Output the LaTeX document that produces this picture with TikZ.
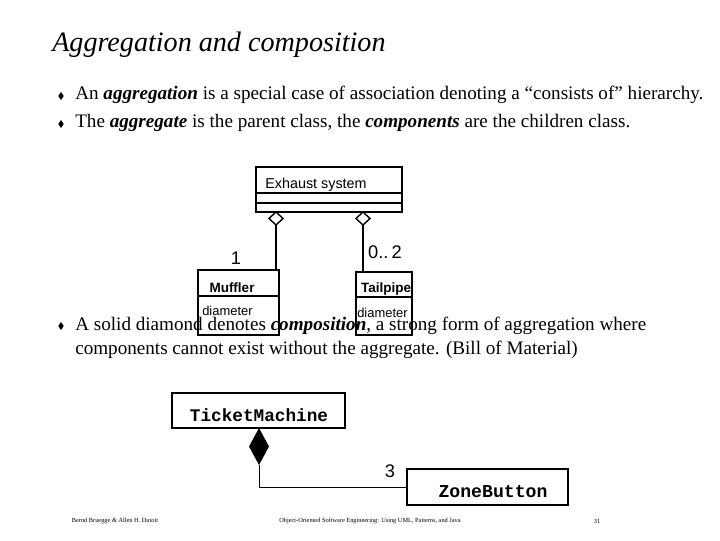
\documentclass[tikz,border=0pt]{standalone}
\usepackage{fontspec}
\setmainfont{Liberation Serif}
\newfontfamily\umlfont{Liberation Sans}
\newfontfamily\codefont{Liberation Mono}
\usetikzlibrary{calc,shapes.geometric}
\tikzset{
  bodytext/.style={anchor=west,inner sep=0pt,font=\fontsize{13.6}{15}\selectfont},
  bulletmark/.style={diamond,fill=black,inner sep=0pt,minimum width=4pt,minimum height=6pt},
  umlline/.style={line width=1pt,color=black},
  footnotetext/.style={inner sep=0pt,font=\fontsize{4.5}{5}\selectfont}
}
\begin{document}
\begin{tikzpicture}[x=0.025cm,y=-0.025cm]
\useasboundingbox (0,0) rectangle (720,540);

\node[anchor=west,inner sep=0pt,font=\fontsize{20}{22}\selectfont\itshape] (title) at (52,45) {Aggregation and composition};

% Bullets.
\node[bulletmark] (b1) at (61,96) {};
\node[bulletmark] (b2) at (61,124) {};
\node[bulletmark] (b3) at (61,326) {};
\node[bodytext] (t1) at (75,95) {An \textbf{\textit{aggregation}} is a special case of association denoting a ``consists of'' hierarchy.};
\node[bodytext] (t2) at (75,123) {The \textbf{\textit{aggregate}} is the parent class, the \textbf{\textit{components}} are the children class.};
\node[bodytext] (t4) at (75,350) {components cannot exist without the aggregate. (Bill of Material)};

% Aggregation example.
\draw[umlline,fill=white] (256,167) rectangle (402,212);
\draw[umlline] (256,193) -- (402,193) (256,203) -- (402,203);
\node[inner sep=0pt,font=\umlfont\fontsize{10.2}{12}\selectfont] (exhaust) at (316,185) {Exhaust system};
\coordinate (E1) at (276,212);
\coordinate (E2) at (363,212);

\draw[umlline,fill=white] (198,270) rectangle (279,335);
\draw[umlline] (198,296) -- (279,296);
\node[inner sep=0pt,font=\umlfont\bfseries\fontsize{9.6}{11}\selectfont] (muffler) at (232,288) {Muffler};
\node[anchor=west,inner sep=0pt,font=\umlfont\fontsize{9.2}{11}\selectfont] (mdiam) at (202,311) {diameter};

\draw[umlline,fill=white] (356,272) rectangle (412,335);
\draw[umlline] (356,297) -- (412,297);
\node[inner sep=0pt,font=\umlfont\bfseries\fontsize{9.6}{11}\selectfont] (tailpipe) at (386,289) {Tailpipe};
\node[anchor=west,inner sep=0pt,font=\umlfont\fontsize{9.2}{11}\selectfont] (tdiam) at (357,313) {diameter};

\draw[umlline] (276,225) -- (276,270);
\draw[umlline] (363,225) -- (363,272);
\draw[line width=1pt,fill=white] (E1) -- ++(-7,6.5) -- ++(7,6.5) -- ++(7,-6.5) -- cycle;
\draw[line width=1pt,fill=white] (E2) -- ++(-7,6.5) -- ++(7,6.5) -- ++(7,-6.5) -- cycle;
\node[inner sep=0pt,font=\umlfont\fontsize{13}{15}\selectfont] (m1) at (236,258) {1};
\node[inner sep=0pt,font=\umlfont\fontsize{13}{15}\selectfont] (m2) at (385,252) {0..\,2};

% Last text line sits over the boxes.
\node[bodytext] (t3) at (75,326) {A solid diamond denotes \textbf{\textit{composition}}, a strong form of aggregation where};

% Composition example.
\draw[line width=1.2pt] (172,393) rectangle (345,428);
\node[inner sep=0pt,font=\codefont\bfseries\fontsize{12.6}{14}\selectfont] (ticket) at (259,415) {TicketMachine};
\draw[line width=1.2pt] (407,469) rectangle (568,505);
\node[inner sep=0pt,font=\codefont\bfseries\fontsize{12.9}{14}\selectfont] (zone) at (493,492) {ZoneButton};
\coordinate (T1) at (259,428);
\fill (T1) -- ++(-10,18.5) -- ++(10,18.5) -- ++(10,-18.5) -- cycle;
\draw[line width=0.6pt] (259,465) -- (259,487) -- (407,487);
\node[inner sep=0pt,font=\umlfont\fontsize{13}{15}\selectfont] (m3) at (390,471) {3};

% Footer.
\node[footnotetext] (f1) at (115,521) {Bernd Bruegge \& Allen H. Dutoit};
\node[footnotetext] (f2) at (370,521) {Object-Oriented Software Engineering: Using UML, Patterns, and Java};
\node[footnotetext] (f3) at (597,521) {31};
\end{tikzpicture}
\end{document}
